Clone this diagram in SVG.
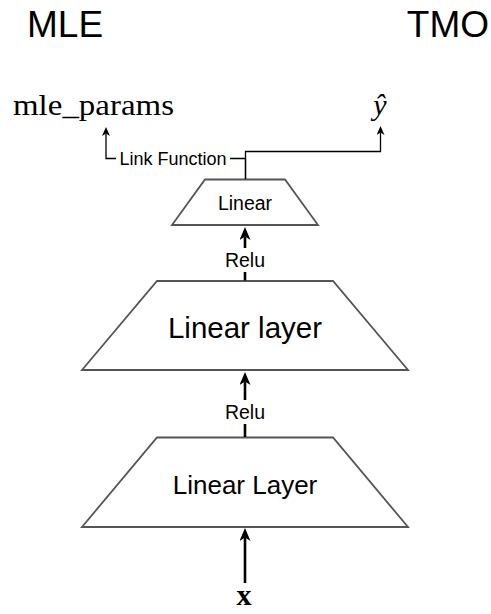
<svg xmlns="http://www.w3.org/2000/svg" width="491" height="614" viewBox="0 0 491 614">
<style>
.shape{fill:#ffffff;stroke:#555555;stroke-width:1.8}
.lbl{font-family:"Liberation Sans",Arial,sans-serif;fill:#000;text-anchor:middle;dominant-baseline:central}
.math{font-family:"Liberation Serif","Times New Roman",serif;fill:#000}
.thick{fill:none;stroke:#000;stroke-width:2.6}
.thin{fill:none;stroke:#000;stroke-width:1.3}
.bg{fill:#ffffff}
</style>
<defs>
<marker id="big" markerUnits="userSpaceOnUse" viewBox="0 0 13 11" refX="3.5" refY="5.5" markerWidth="13" markerHeight="11" orient="auto">
<path d="M13,5.5 L0,0 L3.5,5.5 L0,11 Z" fill="#000"/>
</marker>
<marker id="small" markerUnits="userSpaceOnUse" viewBox="0 0 9 8" refX="2.5" refY="4" markerWidth="9" markerHeight="8" orient="auto">
<path d="M9,4 L0,0 L2.5,4 L0,8 Z" fill="#000"/>
</marker>
</defs>
<rect width="491" height="614" fill="#ffffff"/>
<g id="titles">
<text x="27" y="37" font-family="Liberation Sans, Arial, sans-serif" font-size="37">MLE</text>
<text x="489" y="37" font-family="Liberation Sans, Arial, sans-serif" font-size="37" text-anchor="end">TMO</text>
</g>
<g id="outputs">
<text class="math" x="13" y="115" font-size="30" textLength="161" lengthAdjust="spacingAndGlyphs">mle_params</text>
<text class="math" x="380" y="115" font-size="30" font-style="italic" text-anchor="middle">ŷ</text>
<text class="math" x="244" y="605" font-size="30" font-weight="bold" text-anchor="middle">x</text>
</g>
<g id="node-linear">
<polygon class="shape" points="205,179.5 285,179.5 318,225 172,225"/>
<text class="lbl" x="245" y="203" font-size="19.5">Linear</text>
</g>
<g id="node-linear-layer-upper">
<polygon class="shape" points="157,281 333,281 408,370 82,370"/>
<text class="lbl" x="245" y="327" font-size="29.5">Linear layer</text>
</g>
<g id="node-linear-layer-lower">
<polygon class="shape" points="157,437.5 333,437.5 408,527 82,527"/>
<text class="lbl" x="245" y="485" font-size="26">Linear Layer</text>
</g>
<g id="connectors">
<path class="thick" d="M245,583 L245,537.5" marker-end="url(#big)"/>
<path class="thick" d="M245,437 L245,381.5" marker-end="url(#big)"/>
<rect class="bg" x="222" y="400" width="46" height="24"/>
<text class="lbl" x="245" y="412" font-size="19.5">Relu</text>
<path class="thick" d="M245,280.5 L245,236.5" marker-end="url(#big)"/>
<rect class="bg" x="222" y="248" width="46" height="24"/>
<text class="lbl" x="245" y="260" font-size="19.5">Relu</text>
<path class="thin" d="M245.5,179 L245.5,151.5 L380.5,151.5 L380.5,132.5" marker-end="url(#small)"/>
<path class="thin" d="M245.5,179 L245.5,158.5 L106,158.5 L106,133.5" marker-end="url(#small)"/>
<rect class="bg" x="116" y="150" width="114" height="18"/>
<text class="lbl" x="173" y="159" font-size="18">Link Function</text>
</g>
</svg>
